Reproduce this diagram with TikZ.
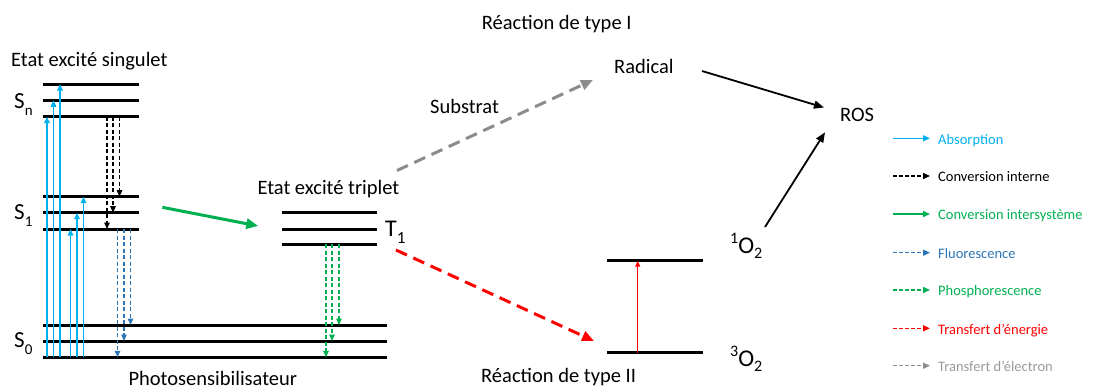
\documentclass[tikz,border=0pt]{standalone}
\usepackage{fontspec}
\setmainfont{Carlito}
\usetikzlibrary{arrows.meta}
\definecolor{cabs}{HTML}{00B0F0}
\definecolor{cfluo}{HTML}{2E75B6}
\definecolor{cgreen}{HTML}{00B050}
\definecolor{cred}{HTML}{FF0000}
\definecolor{cgray}{HTML}{8C8C8C}
\definecolor{cgraytext}{HTML}{9A9A9A}
\newcommand\fsz[1]{\fontsize{#1}{#1}\selectfont}
\begin{document}
\begin{tikzpicture}[x=1pt,y=-1pt,
  lvl/.style={line width=3pt},
  txt/.style={inner sep=0pt, anchor=base west, font=\fsz{20.5}},
  leg/.style={inner sep=0pt, anchor=base west, font=\fsz{14.5}},
  thinhead/.style={-{Triangle[length=6.5pt,width=5.5pt]}},
  absarr/.style={thinhead, cabs, line width=1.5pt},
  dsh/.style={dash pattern=on 4pt off 2.5pt},
  icarr/.style={thinhead, black, line width=1.4pt, dsh},
  fluoarr/.style={thinhead, cfluo, line width=1.4pt, dsh},
  phosarr/.style={thinhead, cgreen, line width=1.4pt, dsh},
  bigarr/.style={-{Triangle[length=12pt,width=10pt]}, line width=3pt},
  bigdash/.style={bigarr, dash pattern=on 12pt off 7pt},
  blkarr/.style={-{Triangle[length=10pt,width=8pt]}, line width=1.8pt},
  legarr/.style={-{Triangle[length=7pt,width=6pt]}, line width=1.5pt},
  legdash/.style={legarr, dash pattern=on 4pt off 2pt},
]
\useasboundingbox (0,0) rectangle (1093,389);

% ---------- energy levels ----------
\foreach \y in {84,100.3,116.7,196.7,212.7,229} \draw[lvl] (43,\y) -- (139,\y);
\foreach \y in {325,341,357.3} \draw[lvl] (43,\y) -- (386.7,\y);
\foreach \y in {212.7,229,244} \draw[lvl] (281.7,\y) -- (376.7,\y);
\draw[lvl] (607,260.7) -- (702.7,260.7);
\draw[lvl] (607,352.7) -- (702.7,352.7);

% ---------- level labels ----------
\node[txt, font=\fsz{23}] (Sn) at (14,108) {S\raisebox{-7pt}{\fsz{15}n}};
\node[txt, font=\fsz{23}] (S1) at (14,219.5) {S\raisebox{-7pt}{\fsz{15}1}};
\node[txt, font=\fsz{23}] (S0) at (14,347.7) {S\raisebox{-7pt}{\fsz{15}0}};
\node[txt, font=\fsz{24}] (T1) at (385,236.7) {T\raisebox{-6.5pt}{\fsz{17}1}};
\node[txt, font=\fsz{24}] (O1) at (730,253.3) {\raisebox{10pt}{\fsz{16}1}O\raisebox{-5pt}{\fsz{16}2}};
\node[txt, font=\fsz{24}] (O3) at (730,366.7) {\raisebox{10pt}{\fsz{16}3}O\raisebox{-5pt}{\fsz{16}2}};

% ---------- texts ----------
\node[txt] (sing) at (11,66.7) {Etat excité singulet};
\node[txt] (trip) at (257.3,194) {Etat excité triplet};
\node[txt] (photo) at (128.3,385.5) {Photosensibilisateur};
\node[txt] (typeI) at (481.7,29.3) {Réaction de type I};
\node[txt] (typeII) at (481,382.5) {Réaction de type II};
\node[txt] (radical) at (614,73.3) {Radical};
\node[txt] (substrat) at (430,113.3) {Substrat};
\node[txt] (ros) at (840,121.7) {ROS};

% ---------- absorption ----------
\draw[absarr] (47,357.3) -- (47,116.7);
\draw[absarr] (53.5,357.3) -- (53.5,100.3);
\draw[absarr] (60,357.3) -- (60,84);
\draw[absarr] (70.5,357.3) -- (70.5,229);
\draw[absarr] (77,357.3) -- (77,212.7);
\draw[absarr] (83.5,357.3) -- (83.5,196.7);

% ---------- conversion interne ----------
\draw[icarr] (119.5,116.7) -- (119.5,196.7);
\draw[icarr] (113,116.7) -- (113,212.7);
\draw[icarr] (107,116.7) -- (107,229);

% ---------- fluorescence ----------
\draw[fluoarr] (130.5,229) -- (130.5,325);
\draw[fluoarr] (124,229) -- (124,341);
\draw[fluoarr] (117.5,229) -- (117.5,357.3);

% ---------- phosphorescence ----------
\draw[phosarr] (339,244) -- (339,325);
\draw[phosarr] (332,244) -- (332,341);
\draw[phosarr] (326,244) -- (326,357.3);

% ---------- big arrows ----------
\coordinate (iscA) at (162.3,207.3);
\coordinate (iscB) at (258.3,226);
\draw[bigarr, cgreen] (iscA) -- (iscB);

\coordinate (etA) at (397,170.5);
\coordinate (etB) at (593,80);
\draw[bigdash, cgray] (etA) -- (etB);

\coordinate (enA) at (396,250);
\coordinate (enB) at (594,341);
\draw[bigdash, cred] (enA) -- (enB);

\coordinate (o2A) at (637.7,352.7);
\coordinate (o2B) at (637.7,260.7);
\draw[-{Triangle[length=6pt,width=5pt]}, cred, line width=1.2pt] (o2A) -- (o2B);

\coordinate (radA) at (702,71);
\coordinate (radB) at (824,107.5);
\draw[blkarr] (radA) -- (radB);

\coordinate (soA) at (765,227);
\coordinate (soB) at (825,132.3);
\draw[blkarr] (soA) -- (soB);

% ---------- legend ----------
\draw[legarr, cabs] (893,138.3) -- (930,138.3);
\node[leg, text=cabs] (l1) at (938,144) {Absorption};
\draw[legdash, black] (893,176) -- (930,176);
\node[leg, text=black] (l2) at (938,181.7) {Conversion interne};
\draw[legarr, cgreen] (893,214) -- (930,214);
\node[leg, text=cgreen] (l3) at (938,219.7) {Conversion intersystème};
\draw[legdash, cfluo] (893,252.7) -- (930,252.7);
\node[leg, text=cfluo] (l4) at (938,258.4) {Fluorescence};
\draw[legdash, cgreen] (893,290) -- (930,290);
\node[leg, text=cgreen] (l5) at (938,295.7) {Phosphorescence};
\draw[legdash, cred] (893,328.3) -- (930,328.3);
\node[leg, text=cred] (l6) at (938,334) {Transfert d’énergie};
\draw[legdash, cgray] (893,365.7) -- (930,365.7);
\node[leg, text=cgraytext] (l7) at (938,371.4) {Transfert d’électron};
\end{tikzpicture}
\end{document}
